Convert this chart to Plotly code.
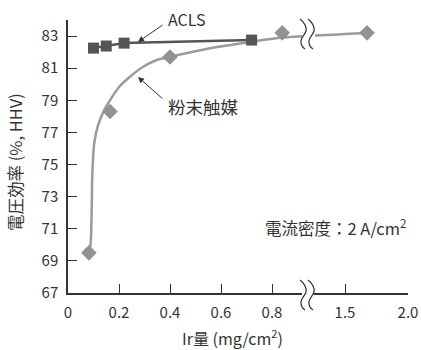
import plotly.graph_objects as go

# ---------------- data ----------------
acls_x = [0.10, 0.15, 0.22, 0.72]
acls_y = [82.25, 82.38, 82.56, 82.75]

powder_x = [0.082, 0.165, 0.40, 0.84, 1.675]
powder_y = [69.5, 78.3, 81.7, 83.2, 83.2]

# fitted curve for powder catalyst
curve_x = [0.082, 0.089, 0.093, 0.095, 0.103, 0.118, 0.142, 0.165, 0.201, 0.243,
           0.295, 0.348, 0.400, 0.584, 0.714, 0.831, 1.675]
curve_y = [69.49, 70.11, 72.17, 74.22, 76.34, 77.46, 78.39, 79.01, 79.84, 80.47,
           81.09, 81.51, 81.71, 82.32, 82.63, 82.89, 83.19]

x_ticks = [0, 0.2, 0.4, 0.6, 0.8, 1.5, 2.0]
x_tick_text = ["0", "0.2", "0.4", "0.6", "0.8", "1.5", "2.0"]
y_ticks = [67, 69, 71, 73, 75, 77, 79, 81, 83]

# ---------------- broken x axis ----------------
BREAK_LO = 0.941      # left segment ends here
BREAK_HI = 1.206      # right segment starts here
RIGHT_SCALE = 126 / 255  # right segment is compressed


def tx(v):
    return v if v <= BREAK_LO else BREAK_LO + (v - BREAK_HI) * RIGHT_SCALE


# plot area in pixels
W, H = 421, 350
L, R, T, B = 68, 408, 20, 293
XMAX = tx(2.0)
YMIN, YMAX = 67, 84


def pap(px, py):
    return (px - L) / (R - L), (B - py) / (B - T)


INK = "#333333"
FONT = "Noto Sans CJK JP, Noto Sans, sans-serif"

fig = go.Figure()

fig.add_trace(go.Scatter(
    x=[tx(v) for v in curve_x], y=curve_y, mode="lines",
    line=dict(color="#9b9b9b", width=2.5, shape="spline", smoothing=0.6),
    hoverinfo="skip", showlegend=False))
fig.add_trace(go.Scatter(
    x=[tx(v) for v in powder_x], y=powder_y, mode="markers",
    marker=dict(symbol="diamond", size=12, color="#929292"),
    name="粉末触媒", showlegend=False))
fig.add_trace(go.Scatter(
    x=[tx(v) for v in acls_x], y=acls_y, mode="lines+markers",
    line=dict(color="#555555", width=2.5),
    marker=dict(symbol="square", size=11, color="#555555"),
    name="ACLS", showlegend=False))

# ---------------- break marks ----------------
STROKE = [(0, 0), (4, 3), (7, 8), (6, 12), (5, 16), (0, 19), (1, 24), (1.5, 27), (3, 29), (5, 30)]


def stroke_path(x0, y0):
    pts = [pap(x0 + dx, y0 + dy) for dx, dy in STROKE]
    p = "M {:.5f},{:.5f}".format(*pts[0])
    i = 1
    while i + 2 <= len(pts) - 1:
        p += " C {:.5f},{:.5f} {:.5f},{:.5f} {:.5f},{:.5f}".format(*pts[i], *pts[i + 1], *pts[i + 2])
        i += 3
    return p


shapes = []
for (x0, y0, x1, y1) in [(302, 30, 315, 39), (302, 290, 314, 297)]:
    a = pap(x0, y0)
    b = pap(x1, y1)
    shapes.append(dict(type="rect", xref="paper", yref="paper", x0=a[0], y0=b[1], x1=b[0], y1=a[1],
                       fillcolor="white", line=dict(width=0), layer="above"))
for (x0, y0) in [(300, 19), (308, 19), (300, 280), (308, 280)]:
    shapes.append(dict(type="path", xref="paper", yref="paper", path=stroke_path(x0, y0),
                       line=dict(color=INK, width=1.2), layer="above"))

# ---------------- annotations (paper coordinates) ----------------
ann = []


def text_ann(px, py, text, size=15, xanchor="center", angle=0):
    x, y = pap(px, py)
    ann.append(dict(x=x, y=y, xref="paper", yref="paper", text=text, showarrow=False,
                    xanchor=xanchor, yanchor="middle", textangle=angle,
                    font=dict(size=size, color=INK, family=FONT)))


text_ann(166, 19, "ACLS", 16, "left")
text_ann(166, 106, "粉末触媒", 17.5, "left")
text_ann(408, 227, "電流密度：2 A/cm<sup>2</sup>", 16.5, "right")
text_ann(232, 337, "Ir量 (mg/cm<sup>2</sup>)", 16, "center")
text_ann(15, 162, "電圧効率 (%, HHV)", 16.5, "center", -90)

for (tx0, ty0, hx, hy) in [(164, 24, 138, 42), (164, 100, 138, 77)]:
    hxp, hyp = pap(hx, hy)
    ann.append(dict(x=hxp, y=hyp, xref="paper", yref="paper",
                    ax=tx0 - hx, ay=ty0 - hy, axref="pixel", ayref="pixel",
                    text="", showarrow=True, arrowhead=2, arrowsize=1.2, arrowwidth=1,
                    arrowcolor=INK))

fig.update_layout(
    width=W, height=H,
    margin=dict(l=L, r=W - R, t=T, b=H - B, autoexpand=False),
    paper_bgcolor="white", plot_bgcolor="white",
    font=dict(family=FONT, size=15, color=INK),
    shapes=shapes, annotations=ann,
    xaxis=dict(range=[0, XMAX], tickvals=[tx(v) for v in x_ticks], ticktext=x_tick_text,
               ticks="inside", ticklen=9, tickwidth=1.2, tickcolor=INK, automargin=False,
               showline=True, linewidth=1.5, linecolor=INK, showgrid=False, zeroline=False,
               ticklabelstandoff=5, tickfont=dict(size=15, color=INK)),
    yaxis=dict(range=[YMIN, YMAX], tickvals=y_ticks, automargin=False,
               ticks="inside", ticklen=9, tickwidth=1.2, tickcolor=INK,
               showline=True, linewidth=1.5, linecolor=INK, showgrid=False, zeroline=False,
               ticklabelstandoff=5, tickfont=dict(size=15, color=INK)),
)

fig.write_html("out.html", config={"displayModeBar": False},
               post_script="document.body.style.margin='0';")
